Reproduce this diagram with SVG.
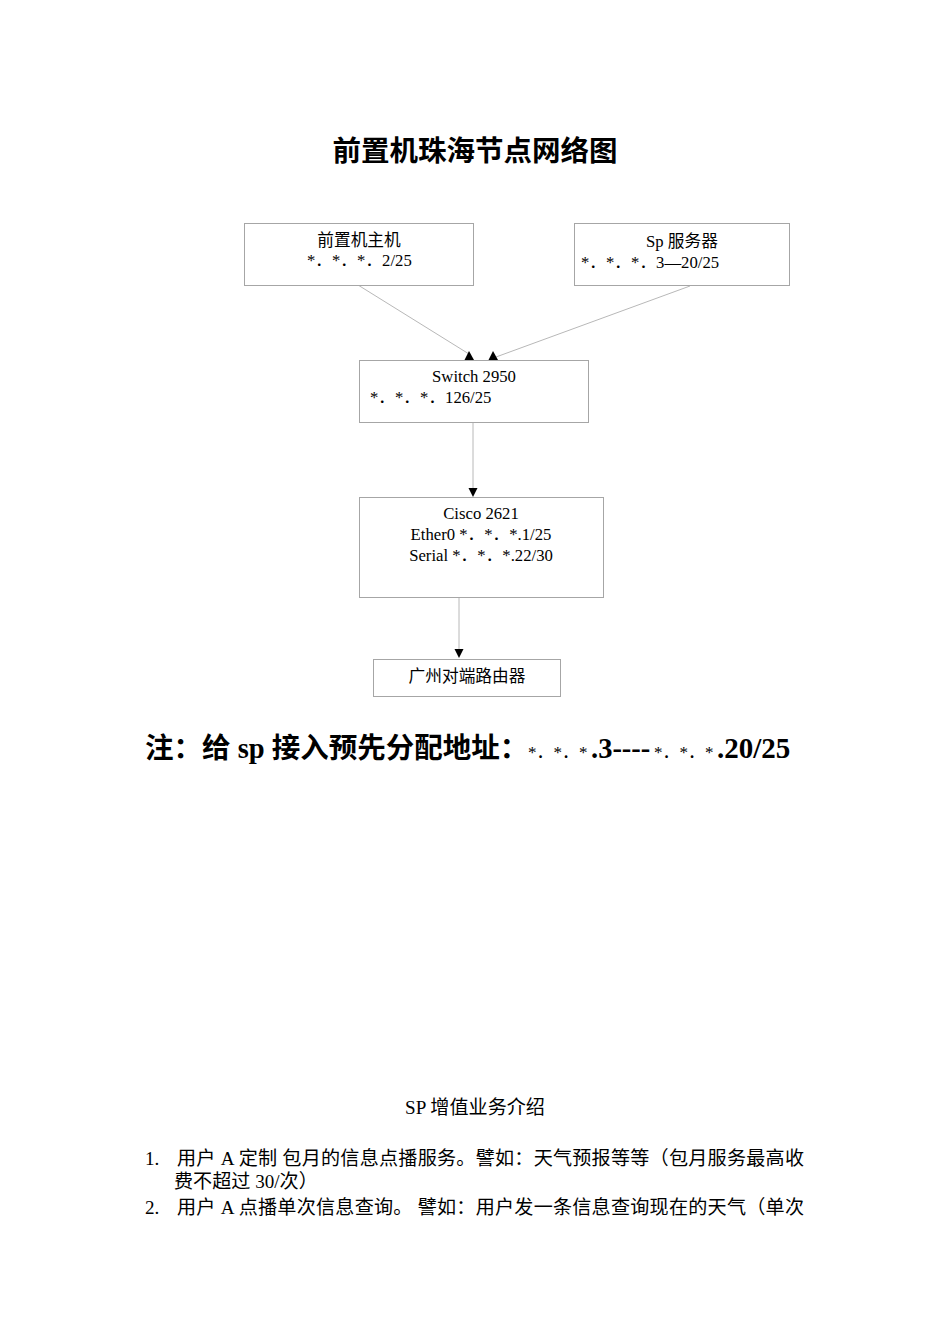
<svg xmlns="http://www.w3.org/2000/svg" width="950" height="1344" viewBox="0 0 950 1344">
<style>
.bg{fill:#ffffff}
.box{fill:#ffffff;stroke:#a6a6a6;stroke-width:1}
.t{font-family:"Liberation Serif","Noto Sans CJK SC",serif;font-size:16.7px;fill:#000}
.c{text-anchor:middle}
.title{font-family:"Liberation Serif","Noto Sans CJK SC",sans-serif;font-size:28.5px;font-weight:bold;fill:#000}
.small{font-weight:normal;font-size:17px}
.body{font-family:"Liberation Serif","Noto Sans CJK SC",serif;font-size:19.1px;fill:#000}
.conn{stroke:#b8b8b8;stroke-width:1;fill:none}
.head{fill:#000}
</style>
<rect class="bg" x="0" y="0" width="950" height="1344"/>
<text class="title c" x="475" y="161">前置机珠海节点网络图</text>

<g id="connectors">
  <line class="conn" x1="358" y1="285" x2="469" y2="354"/>
  <line class="conn" x1="690" y1="286" x2="496" y2="357"/>
  <line class="conn" x1="473" y1="422" x2="473" y2="489"/>
  <line class="conn" x1="459" y1="597" x2="459" y2="650"/>
  <polygon class="head" points="469,351 464.5,360 474,360"/>
  <polygon class="head" points="493,351 488.5,360 498,360"/>
  <polygon class="head" points="468.5,488 477.5,488 473,497"/>
  <polygon class="head" points="454.5,649 463.5,649 459,658"/>
</g>

<g id="node-host">
  <rect class="box" x="244.5" y="223.5" width="229" height="62"/>
  <text class="t c" x="359" y="246">前置机主机</text>
  <text class="t" x="307" y="266">*．*．*．2/25</text>
</g>
<g id="node-sp">
  <rect class="box" x="574.5" y="223.5" width="215" height="62"/>
  <text class="t c" x="682" y="247">Sp 服务器</text>
  <text class="t" x="581" y="268">*．*．*．3—20/25</text>
</g>
<g id="node-switch">
  <rect class="box" x="359.5" y="360.5" width="229" height="62"/>
  <text class="t c" x="474" y="382">Switch 2950</text>
  <text class="t" x="370" y="403">*．*．*．126/25</text>
</g>
<g id="node-cisco">
  <rect class="box" x="359.5" y="497.5" width="244" height="100"/>
  <text class="t c" x="481" y="519">Cisco 2621</text>
  <text class="t c" x="481" y="540">Ether0 *．*．*.1/25</text>
  <text class="t c" x="481" y="561">Serial *．*．*.22/30</text>
</g>
<g id="node-gz">
  <rect class="box" x="373.5" y="659.5" width="187" height="37"/>
  <text class="t c" x="467" y="682">广州对端路由器</text>
</g>

<text class="title" y="758"><tspan x="145">注：给 sp 接入预先分配地址：</tspan><tspan class="small" x="528">*．*．*</tspan><tspan x="591">.3----</tspan><tspan class="small" x="654">*．*．*</tspan><tspan x="717" font-size="29px">.20/25</tspan></text>

<text class="body c" x="475" y="1114">SP 增值业务介绍</text>
<text class="body" x="145" y="1165">1.</text>
<text class="body" x="177" y="1165" textLength="627" lengthAdjust="spacing">用户 A 定制  包月的信息点播服务。譬如：天气预报等等（包月服务最高收</text>
<text class="body" x="174" y="1188">费不超过 30/次）</text>
<text class="body" x="145" y="1214">2.</text>
<text class="body" x="177" y="1214" textLength="627" lengthAdjust="spacing">用户 A 点播单次信息查询。 譬如：用户发一条信息查询现在的天气（单次</text>
</svg>
